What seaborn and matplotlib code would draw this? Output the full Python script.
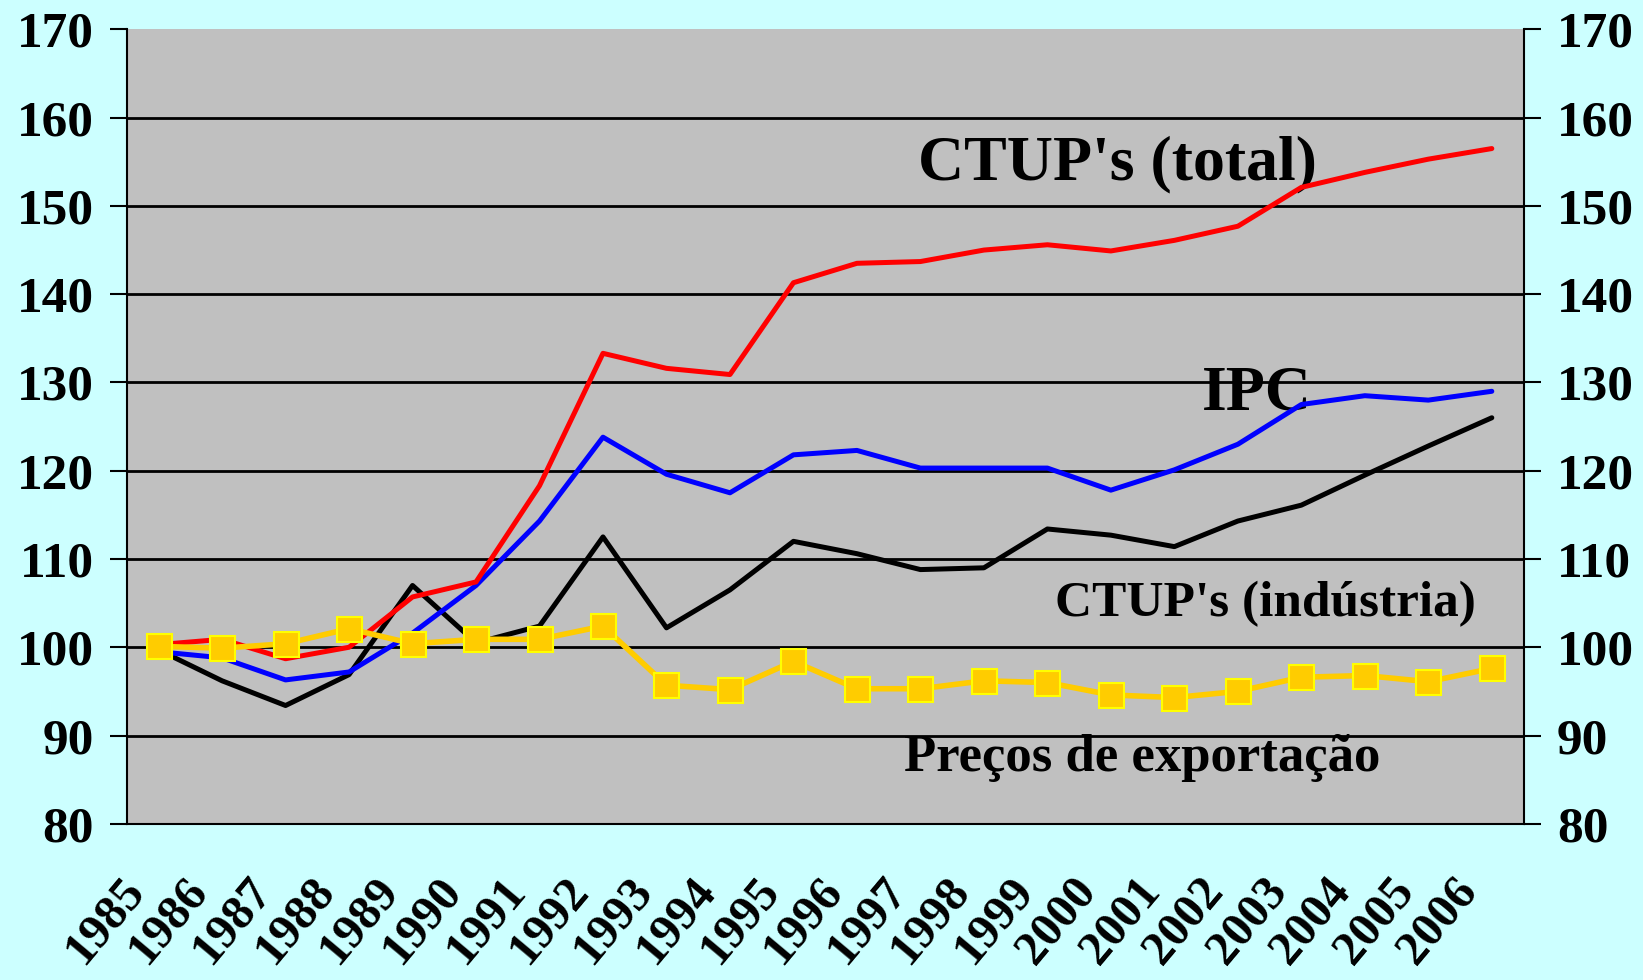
import matplotlib
matplotlib.use("Agg")
import matplotlib.pyplot as plt
import matplotlib.transforms as mtransforms
import numpy as np
import pandas as pd
import seaborn as sns

# Values (index, 1985 = 100)
years = [str(y) for y in range(1985, 2007)]
ctup_total = [100.3, 100.9, 98.7, 100.0, 105.7, 107.4, 118.3, 133.3, 131.6, 130.9, 141.3,
              143.5, 143.7, 145.0, 145.6, 144.9, 146.1, 147.7, 152.1, 153.8, 155.3, 156.5]
ipc = [99.5, 98.8, 96.3, 97.2, 101.6, 107.0, 114.3, 123.8, 119.6, 117.5, 121.8,
       122.3, 120.3, 120.3, 120.3, 117.8, 120.1, 123.0, 127.5, 128.5, 128.0, 129.0]
ctup_industria = [99.7, 96.2, 93.4, 96.9, 107.0, 100.5, 102.4, 112.5, 102.2, 106.5, 112.0,
                  110.6, 108.8, 109.0, 113.4, 112.7, 111.4, 114.3, 116.1, 119.5, 122.8, 126.0]
precos_export = [100.1, 99.9, 100.4, 102.1, 100.4, 100.9, 100.9, 102.4, 95.7, 95.2, 98.4,
                 95.3, 95.3, 96.2, 96.0, 94.6, 94.3, 95.0, 96.6, 96.8, 96.1, 97.6]
y_ticks = list(range(80, 171, 10))

df = pd.DataFrame({
    "pos": np.arange(len(years)),
    "CTUP's (total)": ctup_total,
    "IPC": ipc,
    "CTUP's (indústria)": ctup_industria,
    "Preços de exportação": precos_export,
})

sns.set_style("white")
plt.rcParams['font.family'] = ['Liberation Serif', 'DejaVu Serif']
plt.rcParams['font.weight'] = 'bold'
plt.rcParams['text.color'] = 'black'
plt.rcParams['xtick.color'] = 'black'
plt.rcParams['ytick.color'] = 'black'

fig = plt.figure(figsize=(16.43, 9.8), dpi=100, facecolor='#CCFFFF')
ax = fig.add_axes([0.0772, 0.1594, 0.8501, 0.8106])
ax.set_facecolor('#C0C0C0')

# Black horizontal gridlines
for v in y_ticks[1:-1]:
    ax.axhline(v, color='black', lw=2, zorder=1)

sns.lineplot(data=df, x="pos", y="CTUP's (indústria)", color='black', lw=3.6, ax=ax, zorder=3)
sns.lineplot(data=df, x="pos", y="IPC", color='#0000FF', lw=3.6, ax=ax, zorder=4)
sns.lineplot(data=df, x="pos", y="CTUP's (total)", color='#FF0000', lw=3.6, ax=ax, zorder=5)
sns.lineplot(data=df, x="pos", y="Preços de exportação", color='#FFCC00', lw=4, marker='s',
             markersize=18, markerfacecolor='#FFCC00', markeredgecolor='#FFFF00',
             markeredgewidth=1.5, ax=ax, zorder=6)

ax.set_xlim(-0.5, len(years) - 0.5)
ax.set_ylim(80, 170)
ax.set_xlabel('')
ax.set_ylabel('')

# Category axis: tick marks at boundaries, labels at centers
ax.set_xticks(np.arange(-0.5, len(years), 1.0))
ax.set_xticklabels([])
ax.set_xticks(np.arange(len(years)), minor=True)
ax.set_xticklabels(years, minor=True, rotation=50, ha='right', va='center',
                   rotation_mode='anchor', fontsize=35, fontweight='bold')
ax.tick_params(axis='x', which='major', direction='out', length=14, width=1.5, color='black')
ax.tick_params(axis='x', which='minor', length=0, pad=43)
shift = mtransforms.ScaledTranslation(-16 / 72, 0, fig.dpi_scale_trans)
for lab in ax.get_xticklabels(minor=True):
    lab.set_transform(lab.get_transform() + shift)

ax.set_yticks(y_ticks)
ax.set_yticklabels([str(v) for v in y_ticks], fontsize=37, fontweight='bold')
ax.tick_params(axis='y', direction='out', length=12, width=1.5, color='black',
               left=True, right=True, labelleft=True, labelright=True, pad=12)

for side in ['left', 'right', 'bottom', 'top']:
    ax.spines[side].set_color('black')
    ax.spines[side].set_linewidth(1.5)
ax.spines['top'].set_visible(False)

# Series labels
ax.text(15.1, 154.7, "CTUP's (total)", fontsize=46, fontweight='bold', ha='center', va='center')
ax.text(17.3, 128.6, "IPC", fontsize=46, fontweight='bold', ha='center', va='center')
ax.text(17.43, 104.9, "CTUP's (indústria)", fontsize=37, fontweight='bold', ha='center', va='center')
ax.text(15.5, 87.4, "Preços de exportação", fontsize=38, fontweight='bold', ha='center', va='center')

fig.savefig('out.png', dpi=100, facecolor=fig.get_facecolor())
